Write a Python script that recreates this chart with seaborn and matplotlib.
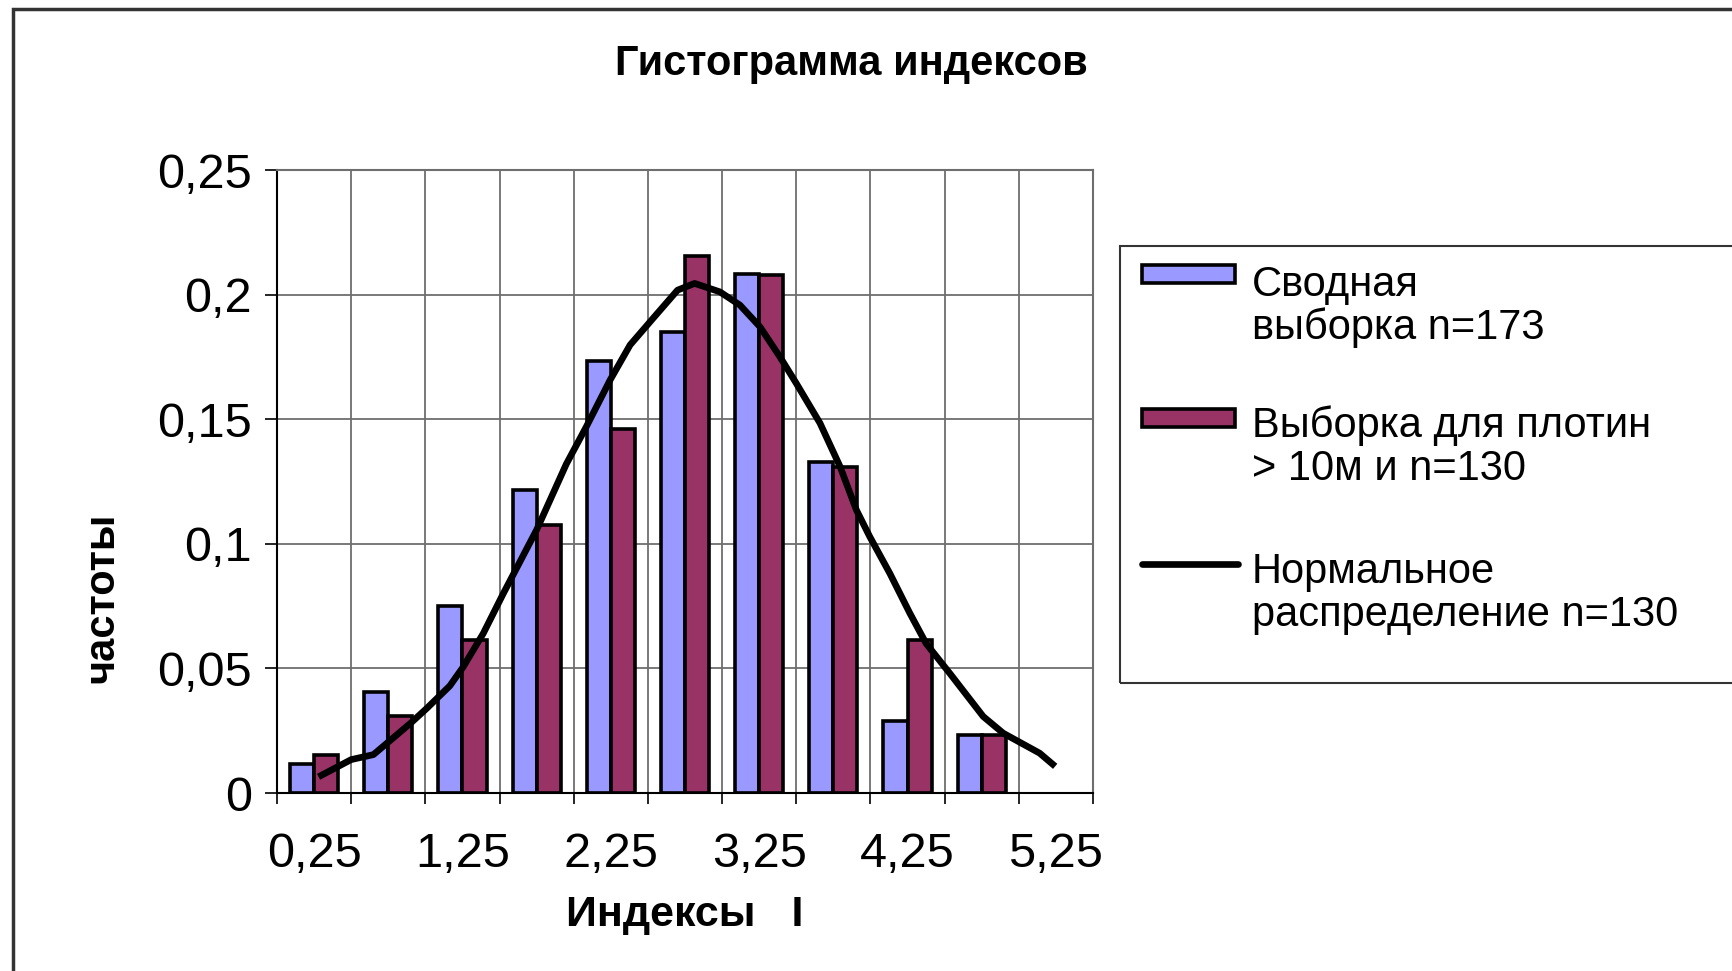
import numpy as np
import pandas as pd
import matplotlib
matplotlib.use('Agg')
import matplotlib.pyplot as plt
import seaborn as sns
from matplotlib.patches import Rectangle
from matplotlib.lines import Line2D

# Histogram of indices
categories = ['0,25', '0,75', '1,25', '1,75', '2,25', '2,75',
              '3,25', '3,75', '4,25', '4,75', '5,25']
bar_cats = categories[:10]  # no bars at 5,25

summary_freq = [0.0116, 0.0405, 0.0751, 0.1214, 0.1734, 0.1850,
                0.2081, 0.1329, 0.0289, 0.0231]
dams_freq = [0.0154, 0.0308, 0.0615, 0.1077, 0.1462, 0.2154,
             0.2077, 0.1308, 0.0615, 0.0231]

# normal curve, x in index units I
normal_I = [0.28, 0.50, 0.65, 0.90, 1.01, 1.165, 1.255, 1.39, 1.525, 1.75,
            1.95, 2.085, 2.245, 2.38, 2.535, 2.70, 2.815, 2.985, 3.12, 3.255,
            3.39, 3.50, 3.66, 3.795, 3.905, 3.995, 4.13, 4.265, 4.375, 4.535,
            4.76, 4.895, 5.14, 5.245]
normal_freq = [0.0065, 0.0134, 0.0154, 0.028, 0.034, 0.043, 0.0506, 0.064, 0.080, 0.1056,
               0.132, 0.147, 0.1657, 0.1798, 0.1905, 0.2018, 0.2045, 0.2011, 0.1958, 0.1871,
               0.175, 0.1644, 0.1484, 0.131, 0.1136, 0.1029, 0.0882, 0.0722, 0.060, 0.048,
               0.0307, 0.024, 0.016, 0.0107]

y_ticks = [0, 0.05, 0.1, 0.15, 0.2, 0.25]
y_labels = ['0', '0,05', '0,1', '0,15', '0,2', '0,25']

name_sum = 'Сводная\nвыборка n=173'
name_dam = 'Выборка для плотин\n> 10м и n=130'
name_norm = 'Нормальное\nраспределение n=130'
blue = '#9999FF'
purple = '#993366'

sns.set_style('white')
plt.rcParams['font.family'] = ['Liberation Sans', 'DejaVu Sans']
plt.rcParams['text.color'] = 'black'
plt.rcParams['axes.labelcolor'] = 'black'
plt.rcParams['xtick.color'] = 'black'
plt.rcParams['ytick.color'] = 'black'

df = pd.DataFrame({
    'cat': bar_cats * 2,
    'freq': summary_freq + dams_freq,
    'series': [name_sum] * len(bar_cats) + [name_dam] * len(bar_cats),
})

W, H = 1733, 971
fig = plt.figure(figsize=(W / 100, H / 100), dpi=100)
fx = lambda px: px / W
fy = lambda py: 1 - py / H

ax = fig.add_axes([fx(277), fy(793), fx(1093) - fx(277), fy(170) - fy(793)])
ax.set_axisbelow(True)

sns.barplot(data=df, x='cat', y='freq', hue='series', order=categories,
            hue_order=[name_sum, name_dam], palette=[blue, purple],
            saturation=1, width=0.65, edgecolor='black', linewidth=2.6,
            errorbar=None, legend=False, ax=ax)

# line on the same category axis
line_x = [(v - 0.25) / 0.5 for v in normal_I]
ax.plot(line_x, normal_freq, color='black', lw=4.8, zorder=5,
        solid_capstyle='butt')

ax.set_xlim(-0.5, 10.5)
ax.set_ylim(0, 0.25)
ax.set_xticks(range(0, 11, 2))
ax.set_xticklabels(categories[::2])
ax.set_xticks(np.arange(-0.5, 11, 1), minor=True)
ax.set_yticks(y_ticks)
ax.set_yticklabels(y_labels)

ax.grid(False)
ax.grid(axis='x', which='minor', color='#6e6e6e', lw=1.3)
ax.grid(axis='y', which='major', color='#6e6e6e', lw=1.3)

ax.tick_params(axis='x', which='major', bottom=True, length=0, pad=28, labelsize=35)
ax.tick_params(axis='x', which='minor', bottom=True, length=8, width=1.2,
               direction='out', color='black')
ax.tick_params(axis='y', left=True, length=9, width=1.2, direction='out',
               color='black', pad=9, labelsize=35)

for s in ['left', 'bottom']:
    ax.spines[s].set_color('black')
    ax.spines[s].set_linewidth(1.5)
for s in ['top', 'right']:
    ax.spines[s].set_color('#6e6e6e')
    ax.spines[s].set_linewidth(1.5)

ax.set_xlabel('Индексы   I', fontsize=31, fontweight='bold', va='center')
ax.xaxis.set_label_coords(0.5, -0.196)
ax.set_ylabel('частоты', fontsize=30, fontweight='bold', va='center', ha='center')
ax.yaxis.set_label_coords(-0.2145, 0.313)

fig.text(fx(851), fy(64), 'Гистограмма индексов', fontsize=30,
         fontweight='bold', ha='center', va='center')

# outer chart border
fig.patches.append(Rectangle((fx(13), -0.1), 1.2, fy(9) + 0.1,
                             transform=fig.transFigure, fill=False,
                             edgecolor='#333333', lw=2.5))

# legend box
fig.patches.append(Rectangle((fx(1120), fy(683)), 1.0, fy(246) - fy(683),
                             transform=fig.transFigure, fill=False,
                             edgecolor='#333333', lw=1.5))
entries = [(name_sum, 'patch', blue, 274, 285),
           (name_dam, 'patch', purple, 418, 426),
           (name_norm, 'line', 'black', 564, 572)]
for label, kind, col, hy, ty in entries:
    if kind == 'patch':
        fig.patches.append(Rectangle((fx(1142), fy(hy + 9)), fx(93), 18 / H,
                                     transform=fig.transFigure, facecolor=col,
                                     edgecolor='black', lw=2.6))
    else:
        fig.lines.append(Line2D([fx(1142), fx(1238)], [fy(hy), fy(hy)],
                                transform=fig.transFigure, color=col, lw=4.8))
    for k, line in enumerate(label.split('\n')):
        fig.text(fx(1252), fy(ty + 43 * k), line, fontsize=30,
                 ha='left', va='center')

fig.savefig('out.png', dpi=100)
